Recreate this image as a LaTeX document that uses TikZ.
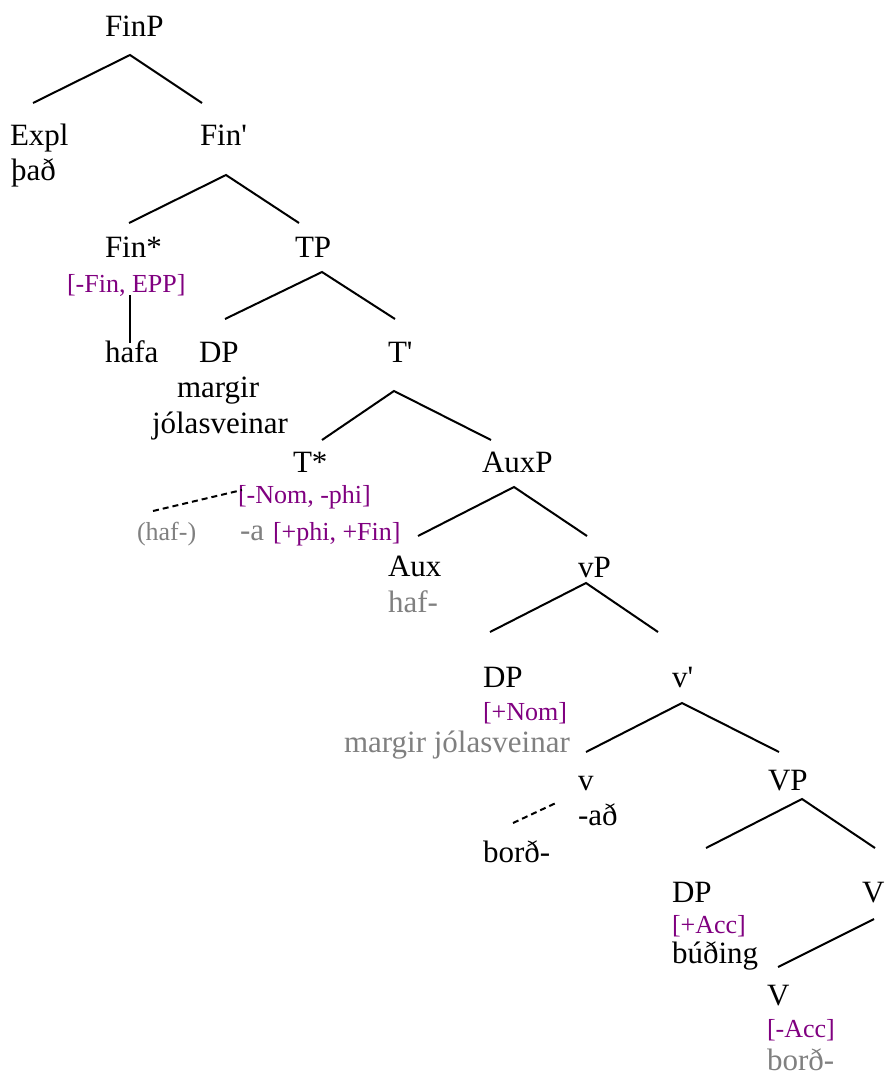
\documentclass[tikz,border=0pt]{standalone}
\usepackage{fontspec}
\setmainfont{Liberation Serif}[Ligatures=TeXOff]
\definecolor{fpurple}{HTML}{800080}
\definecolor{fgray}{HTML}{808080}
\tikzset{
  lbl/.style={inner sep=0pt, outer sep=0pt, anchor=base west, font=\fontsize{31}{36}\selectfont},
  feat/.style={lbl, text=fpurple, font=\fontsize{26}{30}\selectfont},
  gry/.style={lbl, text=fgray},
  gsm/.style={feat, text=fgray},
  edge/.style={line width=2pt},
  dsh/.style={line width=2pt, dash pattern=on 6pt off 4pt}
}
\begin{document}
\begin{tikzpicture}[x=1pt, y=-1pt]
\useasboundingbox (0,0) rectangle (885,1075);
% labels
\node[lbl] (FinP) at (105,37) {FinP};
\node[lbl] (Expl) at (10,146) {Expl};
\node[lbl] (tha) at (11,181) {það};
\node[lbl] (Finbar) at (200,146) {Fin'};
\node[lbl] (Finstar) at (105,257) {Fin*};
\node[feat] (finfeat) at (67,292) {[-Fin, EPP]};
\node[lbl] (hafa) at (105,362) {hafa};
\node[lbl] (TP) at (295,257) {TP};
\node[lbl] (DPa) at (199,362) {DP};
\node[lbl] (margira) at (177,397) {margir};
\node[lbl] (jolaa) at (152,433) {jólasveinar};
\node[lbl] (Tbar) at (388,362) {T'};
\node[lbl] (Tstar) at (293,472) {T*};
\node[feat] (tfeata) at (238,503) {[-Nom, -phi]};
\node[gsm] (hafp) at (137,540) {(haf-)};
\node[gry] (amorph) at (240,540) {-a};
\node[feat] (tfeatb) at (273,540) {[+phi, +Fin]};
\node[lbl] (AuxP) at (482,472) {AuxP};
\node[lbl] (Aux) at (388,576) {Aux};
\node[gry] (haf) at (388,612) {haf-};
\node[lbl] (vP) at (578,577) {vP};
\node[lbl] (DPb) at (483,687) {DP};
\node[feat] (nom) at (483,720) {[+Nom]};
\node[gry] (mj) at (344,752) {margir jólasveinar};
\node[lbl] (vbar) at (672,687) {v'};
\node[lbl] (v) at (578,790) {v};
\node[lbl] (ad) at (578,825) {-að};
\node[lbl] (borda) at (483,862) {borð-};
\node[lbl] (VP) at (768,790) {VP};
\node[lbl] (DPc) at (672,902) {DP};
\node[feat] (acc) at (672,933) {[+Acc]};
\node[lbl] (buding) at (672,963) {búðing};
\node[lbl] (Vbar) at (862,902) {V'};
\node[lbl] (V) at (767,1005) {V};
\node[feat] (nacc) at (767,1037) {[-Acc]};
\node[gry] (bordb) at (767,1070) {borð-};
% branch points
\coordinate (FinP-a) at (130,55);
\coordinate (Expl-t) at (33,103);
\coordinate (Finbar-t) at (202,103);
\coordinate (Finbar-a) at (226,175);
\coordinate (Finstar-t) at (129,223);
\coordinate (TP-t) at (299,223);
\coordinate (finfeat-b) at (130,295);
\coordinate (hafa-t) at (130,343);
\coordinate (TP-a) at (322,272);
\coordinate (DPa-t) at (225,319);
\coordinate (Tbar-t) at (395,319);
\coordinate (Tbar-a) at (394,391);
\coordinate (Tstar-t) at (322,440);
\coordinate (AuxP-t) at (491,440);
\coordinate (hafp-e) at (153,511);
\coordinate (tfeata-e) at (242,490);
\coordinate (AuxP-a) at (514,487);
\coordinate (Aux-t) at (418,536);
\coordinate (vP-t) at (587,536);
\coordinate (vP-a) at (586,583);
\coordinate (DPb-t) at (490,632);
\coordinate (vbar-t) at (658,632);
\coordinate (vbar-a) at (682,703);
\coordinate (v-t) at (586,752);
\coordinate (VP-t) at (779,752);
\coordinate (borda-e) at (513,823);
\coordinate (v-e) at (558,802);
\coordinate (VP-a) at (802,799);
\coordinate (DPc-t) at (706,848);
\coordinate (Vbar-t) at (875,848);
\coordinate (Vbar-a) at (874,919);
\coordinate (V-t) at (778,967);
% edges
\draw[edge] (Expl-t) -- (FinP-a) -- (Finbar-t);
\draw[edge] (Finstar-t) -- (Finbar-a) -- (TP-t);
\draw[edge] (finfeat-b) -- (hafa-t);
\draw[edge] (DPa-t) -- (TP-a) -- (Tbar-t);
\draw[edge] (Tstar-t) -- (Tbar-a) -- (AuxP-t);
\draw[dsh] (hafp-e) -- (tfeata-e);
\draw[edge] (Aux-t) -- (AuxP-a) -- (vP-t);
\draw[edge] (DPb-t) -- (vP-a) -- (vbar-t);
\draw[edge] (v-t) -- (vbar-a) -- (VP-t);
\draw[dsh] (borda-e) -- (v-e);
\draw[edge] (DPc-t) -- (VP-a) -- (Vbar-t);
\draw[edge] (Vbar-a) -- (V-t);
\end{tikzpicture}
\end{document}
